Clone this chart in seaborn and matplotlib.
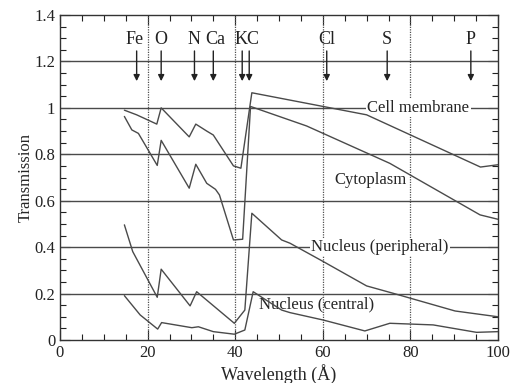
import matplotlib
matplotlib.use("Agg")
import matplotlib.pyplot as plt
import seaborn as sns
import pandas as pd
from matplotlib.ticker import MultipleLocator

# ---- data ----
mem_x = [14.7, 17.5, 22.1, 23.1, 29.5, 31.0, 33.5, 35.0, 39.6, 41.3, 43.8, 70.0, 96.0, 100.0]
mem_y = [0.99, 0.97, 0.93, 1.00, 0.875, 0.93, 0.90, 0.883, 0.75, 0.74, 1.065, 0.97, 0.745, 0.755]

cyt_x = [14.7, 16.4, 17.9, 22.2, 23.1, 29.5, 31.0, 33.5, 35.5, 36.4, 39.6, 41.7, 43.5, 56.3, 75.3, 95.9, 100.0]
cyt_y = [0.963, 0.905, 0.89, 0.752, 0.86, 0.654, 0.757, 0.675, 0.649, 0.625, 0.431, 0.434, 1.006, 0.922, 0.761, 0.539, 0.52]

nper_x = [14.7, 16.6, 22.2, 23.1, 29.7, 31.2, 39.8, 42.2, 43.8, 50.6, 52.5, 60.1, 70.0, 76.1, 90.2, 100.0]
nper_y = [0.496, 0.381, 0.184, 0.305, 0.147, 0.208, 0.072, 0.129, 0.546, 0.431, 0.417, 0.338, 0.233, 0.201, 0.125, 0.10]

ncen_x = [14.7, 18.3, 22.3, 23.2, 30.1, 31.6, 35.0, 39.8, 42.2, 44.1, 50.6, 52.5, 60.1, 69.6, 75.3, 85.2, 95.1, 100.0]
ncen_y = [0.191, 0.108, 0.047, 0.075, 0.053, 0.057, 0.036, 0.025, 0.043, 0.208, 0.129, 0.118, 0.086, 0.039, 0.072, 0.065, 0.033, 0.036]

elements = ["Fe", "O", "N", "Ca", "K", "C", "Cl", "S", "P"]
element_x = [17.5, 23.1, 30.7, 35.0, 41.6, 43.2, 60.9, 74.7, 93.8]
element_label_x = [17.0, 23.1, 30.5, 35.5, 41.3, 44.0, 60.9, 74.7, 93.8]

series_names = ["Cell membrane", "Cytoplasm", "Nucleus (peripheral)", "Nucleus (central)"]

frames = []
for name, xs, ys in zip(series_names, [mem_x, cyt_x, nper_x, ncen_x], [mem_y, cyt_y, nper_y, ncen_y]):
    frames.append(pd.DataFrame({"Wavelength": xs, "Transmission": ys, "series": name}))
df = pd.concat(frames, ignore_index=True)

# ---- style ----
sns.set_style("ticks")
plt.rcParams["font.family"] = ["Liberation Serif", "DejaVu Serif"]

fig = plt.figure(figsize=(5.17, 3.83), dpi=100)
ax = fig.add_axes([60 / 517, 1 - 340 / 383, 438 / 517, 325 / 383])

line_col = "#4a4a4a"
sns.lineplot(data=df, x="Wavelength", y="Transmission", hue="series", units="series",
             estimator=None, sort=False, palette=[line_col] * 4, linewidth=1.0,
             legend=False, ax=ax, zorder=3)

ax.set_xlim(0, 100)
ax.set_ylim(0, 1.4)

# grid lines
for yv in [0.2, 0.4, 0.6, 0.8, 1.0, 1.2]:
    ax.axhline(yv, color="#4a4a4a", lw=1.0, zorder=1)
for xv in [20, 40, 60, 80]:
    ax.axvline(xv, color="#505050", lw=0.9, ls=(0, (1, 1)), zorder=1)

ax.xaxis.set_major_locator(MultipleLocator(20))
ax.xaxis.set_minor_locator(MultipleLocator(5))
ax.yaxis.set_major_locator(MultipleLocator(0.2))
ax.yaxis.set_minor_locator(MultipleLocator(0.05))
ax.set_yticks([0, 0.2, 0.4, 0.6, 0.8, 1.0, 1.2, 1.4])
ax.set_yticklabels(["0", "0.2", "0.4", "0.6", "0.8", "1", "1.2", "1.4"])
ax.tick_params(which="both", direction="in", top=True, right=True, labelsize=12, colors="#222222")
ax.tick_params(which="major", length=7, width=0.8)
ax.tick_params(which="minor", length=4.5, width=0.8)
for sp in ax.spines.values():
    sp.set_color("#333333")
    sp.set_linewidth(1.0)

ax.set_xlabel("Wavelength (Å)", fontsize=13, labelpad=2)
ax.set_ylabel("Transmission", fontsize=12, labelpad=0)

# element labels and arrows
for lab, xa, xl in zip(elements, element_x, element_label_x):
    ax.text(xl, 1.293, lab, ha="center", va="center", fontsize=13, color="#222222")
    ax.annotate("", xy=(xa, 1.115), xytext=(xa, 1.245),
                arrowprops=dict(arrowstyle="-|>", color="#222222", lw=1.0,
                                mutation_scale=9, shrinkA=0, shrinkB=0), zorder=4)

box = dict(facecolor="white", edgecolor="none", pad=1)
ax.text(81.8, 1.0, "Cell membrane", ha="center", va="center", fontsize=12, bbox=box, zorder=2)
ax.text(71.0, 0.69, "Cytoplasm", ha="center", va="center", fontsize=12, zorder=2)
ax.text(73.0, 0.40, "Nucleus (peripheral)", ha="center", va="center", fontsize=12, bbox=box, zorder=2)
ax.text(58.5, 0.152, "Nucleus (central)", ha="center", va="center", fontsize=12, zorder=2)

fig.savefig("out.png", dpi=100)
